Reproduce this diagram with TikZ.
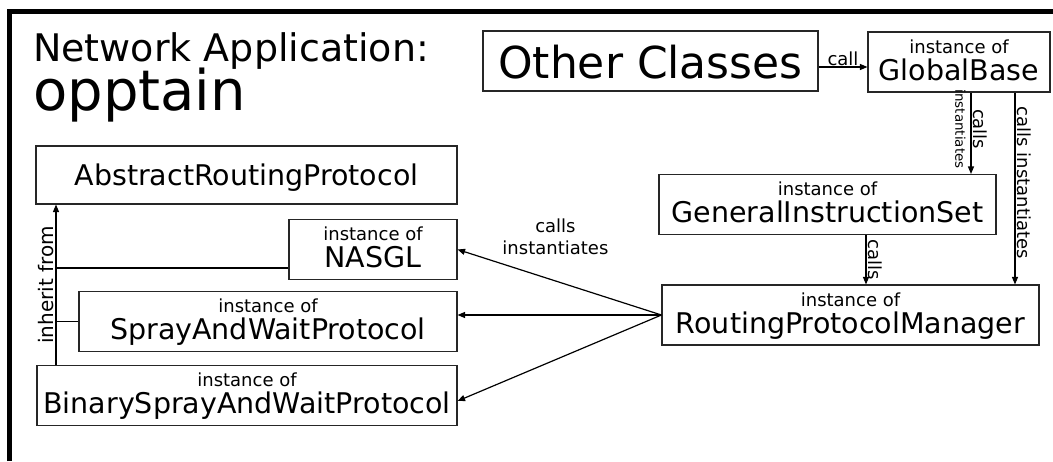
\documentclass[tikz,border=0pt]{standalone}
\usepackage{fontspec}
\setmainfont{DejaVu Sans}
\usetikzlibrary{arrows.meta}
\newcommand\instof{{\fontsize{18pt}{18pt}\selectfont\rule{0pt}{21pt}instance of}}
\newcommand\lowstrut{\rule[-12pt]{0pt}{12pt}}
\begin{document}
\begin{tikzpicture}[x=1pt,y=-1pt,
  cls/.style={draw=black!85, line width=1.1pt, inner sep=0pt, align=center,
              font=\fontsize{28.5pt}{27pt}\selectfont},
  arr/.style={line width=1.2pt, -{Triangle[length=7.5pt,width=6pt]}},
  lbl/.style={font=\fontsize{18pt}{18pt}\selectfont, inner sep=1.5pt},
  conn/.style={line width=1.2pt},
  frame/.style={line width=5pt}
]
\useasboundingbox (0,0) rectangle (1053,461);
\draw[frame] (9.5,461) -- (9.5,11.5) -- (1053,11.5);

% title
\node[anchor=base west, inner sep=0pt, font=\fontsize{38pt}{38pt}\selectfont] (title1) at (33,61) {Network Application:};
\node[anchor=base west, inner sep=0pt, font=\fontsize{56pt}{56pt}\selectfont] (title2) at (33,110) {opptain};

% boxes
\node[cls, minimum width=335pt, minimum height=60pt, font=\fontsize{44pt}{44pt}\selectfont] (oc) at (650.5,61) {\rule[-13pt]{0pt}{60pt}Other Classes};
\node[cls, minimum width=182pt, minimum height=60pt] (gb) at (959,62) {\instof\\GlobalBase\lowstrut};
\node[cls, minimum width=337pt, minimum height=60pt] (gis) at (827.5,204.5) {\instof\\GeneralInstructionSet\lowstrut};
\node[cls, minimum width=377pt, minimum height=60pt] (rpm) at (850.5,315) {\instof\\RoutingProtocolManager\lowstrut};
\node[cls, minimum width=421pt, minimum height=58pt] (arp) at (246.5,175) {\rule[-19pt]{0pt}{58pt}AbstractRoutingProtocol};
\node[cls, minimum width=168pt, minimum height=59pt] (nasgl) at (373,249.5) {\instof\\NASGL\lowstrut};
\node[cls, minimum width=378pt, minimum height=59pt] (spray) at (268,321.5) {\instof\\SprayAndWaitProtocol\lowstrut};
\node[cls, minimum width=420pt, minimum height=59pt] (bin) at (247,395.5) {\instof\\BinarySprayAndWaitProtocol\lowstrut};

% top connectors
\draw[arr] ([yshift=-6pt]oc.east) -- ([yshift=-6pt]oc.east -| gb.west)
  node[midway, above, lbl, inner sep=1pt] (lcall) {call};
\draw[arr] ([xshift=12pt]gb.south) -- ([xshift=12pt]gb.south |- gis.north)
  node[pos=0.45, sloped, inner sep=0pt, align=center,
       font=\fontsize{13.4pt}{18pt}\selectfont] (lci1) {{\fontsize{18pt}{18pt}\selectfont calls}\\instantiates};
\draw[arr] ([xshift=56pt]gb.south) -- ([xshift=56pt]gb.south |- rpm.north)
  node[pos=0.47, sloped, above, lbl] (lci2) {calls instantiates};
\draw[arr] ([xshift=38.5pt]gis.south) -- ([xshift=38.5pt]gis.south |- rpm.north)
  node[midway, sloped, above, lbl] (lcalls) {calls};

% manager to protocols
\draw[arr] (rpm.west) -- (nasgl.east)
  node[pos=0.52, anchor=south, yshift=25.6pt, inner sep=0pt, align=center,
       font=\fontsize{18pt}{22pt}\selectfont] (lci3) {calls\\instantiates};
\draw[arr] (rpm.west) -- (rpm.west -| spray.east);
\draw[arr] (rpm.west) -- ([yshift=-5.5pt]bin.east);

% inheritance
\coordinate (ib) at ([xshift=-191pt]bin.north);
\draw[arr] (ib) -- (ib |- arp.south)
  node[pos=0.5, sloped, above, lbl, font=\fontsize{20pt}{20pt}\selectfont] (linh) {inherit from};
\draw[conn] ([yshift=-18.5pt]nasgl.west) -- ([yshift=-18.5pt]nasgl.west -| ib);
\draw[conn] (spray.west) -- (spray.west -| ib);
\end{tikzpicture}
\end{document}
